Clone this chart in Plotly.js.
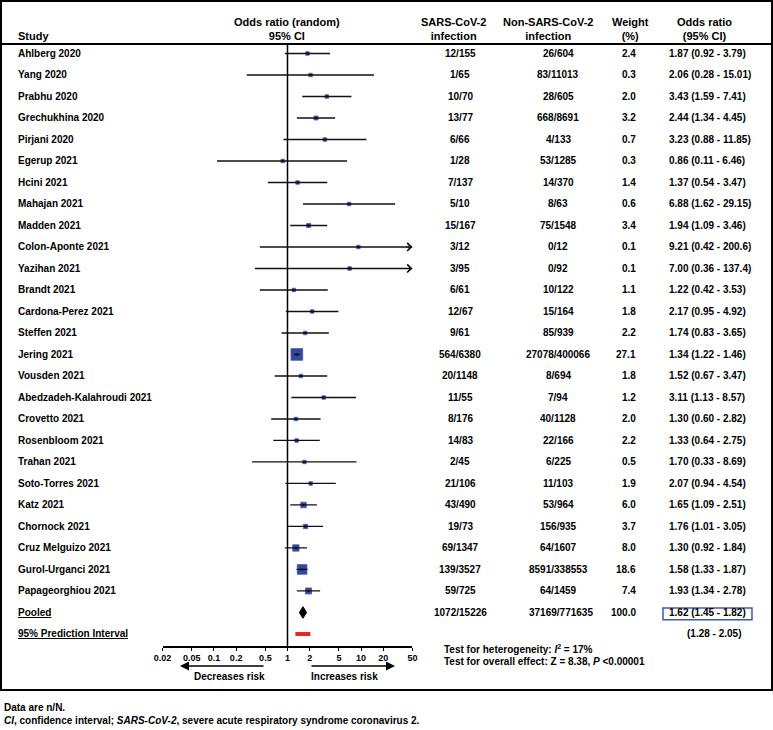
<!DOCTYPE html>
<html>
<head>
<meta charset="utf-8">
<script src="https://cdn.plot.ly/plotly-3.0.1.min.js"></script>
<style>html,body{margin:0;padding:0;background:#fff;}#chart{width:773px;height:730px;}</style>
</head>
<body>
<div id="chart"></div>
<script>
// ---------------- data ----------------
const studies = ["Ahlberg 2020","Yang 2020","Prabhu 2020","Grechukhina 2020","Pirjani 2020","Egerup 2021","Hcini 2021","Mahajan 2021","Madden 2021","Colon-Aponte 2021","Yazihan 2021","Brandt 2021","Cardona-Perez 2021","Steffen 2021","Jering 2021","Vousden 2021","Abedzadeh-Kalahroudi 2021","Crovetto 2021","Rosenbloom 2021","Trahan 2021","Soto-Torres 2021","Katz 2021","Chornock 2021","Cruz Melguizo 2021","Gurol-Urganci 2021","Papageorghiou 2021"];
const sarsInfection = ["12/155","1/65","10/70","13/77","6/66","1/28","7/137","5/10","15/167","3/12","3/95","6/61","12/67","9/61","564/6380","20/1148","11/55","8/176","14/83","2/45","21/106","43/490","19/73","69/1347","139/3527","59/725"];
const nonSarsInfection = ["26/604","83/11013","28/605","668/8691","4/133","53/1285","14/370","8/63","75/1548","0/12","0/92","10/122","15/164","85/939","27078/400066","8/694","7/94","40/1128","22/166","6/225","11/103","53/964","156/935","64/1607","8591/338553","64/1459"];
const weights = [2.4,0.3,2.0,3.2,0.7,0.3,1.4,0.6,3.4,0.1,0.1,1.1,1.8,2.2,27.1,1.8,1.2,2.0,2.2,0.5,1.9,6.0,3.7,8.0,18.6,7.4];
const oddsRatio = [1.87,2.06,3.43,2.44,3.23,0.86,1.37,6.88,1.94,9.21,7.00,1.22,2.17,1.74,1.34,1.52,3.11,1.30,1.33,1.70,2.07,1.65,1.76,1.30,1.58,1.93];
const ciLow = [0.92,0.28,1.59,1.34,0.88,0.11,0.54,1.62,1.09,0.42,0.36,0.42,0.95,0.83,1.22,0.67,1.13,0.60,0.64,0.33,0.94,1.09,1.01,0.92,1.33,1.34];
const ciHigh = [3.79,15.01,7.41,4.45,11.85,6.46,3.47,29.15,3.46,200.6,137.4,3.53,4.92,3.65,1.46,3.47,8.57,2.82,2.75,8.69,4.54,2.51,3.05,1.84,1.87,2.78];

const pooledLabel = "Pooled";
const pooledSars = "1072/15226";
const pooledNonSars = "37169/771635";
const pooledWeight = 100.0;
const pooledOR = 1.62, pooledLow = 1.45, pooledHigh = 1.82;
const predLabel = "95% Prediction Interval";
const predLow = 1.28, predHigh = 2.05;

const tickVals = [0.02,0.05,0.1,0.2,0.5,1,2,5,10,20,50];
const tickText = ["0.02","0.05","0.1","0.2","0.5","1","2","5","10","20","50"];
const heterogeneityText = "Test for heterogeneity: <i>I</i><sup>2</sup> = 17%";
const overallText = "Test for overall effect: Z = 8.38, <i>P</i> <0.00001";

// ---------------- helpers ----------------
const W = 773, H = 730;
const px = v => v / W;
const py = v => 1 - v / H;
const fmt = v => v >= 100 ? v.toFixed(1) : v.toFixed(2);
const orText = (o, l, h) => fmt(o) + " (" + fmt(l) + " - " + fmt(h) + ")";
const FONT = "Liberation Sans, Arial, Helvetica, sans-serif";
const xMin = 0.02, xMax = 50;

const n = studies.length;
const rows = studies.map((_, i) => i);
const pooledRow = n, predRow = n + 1;

// ---------------- traces ----------------
const traces = [];

// reference line at OR = 1
traces.push({x: [1, 1], y: [-0.442, 27.56], mode: "lines", line: {color: "#000", width: 1.5}, hoverinfo: "skip", showlegend: false});

// weight squares
traces.push({
  x: oddsRatio, y: rows, mode: "markers", hoverinfo: "skip", showlegend: false,
  marker: {symbol: "square", color: "#33479f", opacity: 1, size: weights.map(w => Math.max(3.5, 2.25 * Math.sqrt(w))), line: {color: "#4a5cb0", width: 0.8}}
});

// CI lines (clipped at axis max)
const cx = [], cy = [];
rows.forEach(i => {
  cx.push(ciLow[i], Math.min(ciHigh[i], xMax), null);
  cy.push(i, i, null);
});
traces.push({x: cx, y: cy, mode: "lines", line: {color: "#111", width: 1.3}, hoverinfo: "skip", showlegend: false, connectgaps: false});

// small center markers
traces.push({x: oddsRatio, y: rows, mode: "markers", hoverinfo: "skip", showlegend: false,
  marker: {symbol: "square", color: "#111", size: 2, opacity: 1}});

// pooled diamond
const dh = 0.27;
traces.push({
  x: [pooledLow, pooledOR, pooledHigh, pooledOR, pooledLow],
  y: [pooledRow, pooledRow - dh, pooledRow, pooledRow + dh, pooledRow],
  mode: "lines", fill: "toself", fillcolor: "#000", line: {color: "#000", width: 1}, hoverinfo: "skip", showlegend: false
});

// prediction interval
traces.push({x: [predLow, predHigh], y: [predRow, predRow], mode: "lines", line: {color: "#e8262a", width: 4}, hoverinfo: "skip", showlegend: false});

// ---------------- annotations ----------------
const ann = [];
const txt = (text, x, y, opts = {}) => Object.assign({
  text: "<b>" + text + "</b>", x: x, y: y, xref: "paper", yref: "paper", showarrow: false,
  xanchor: "center", yanchor: "middle", font: {family: FONT, size: 10, color: "#000"}
}, opts);

// headers
ann.push(txt("Study", px(16), py(36), {xanchor: "left", font: {family: FONT, size: 11, color: "#000"}}));
ann.push(txt("Odds ratio (random)<br>95% CI", px(287), py(29), {font: {family: FONT, size: 11, color: "#000"}}));
ann.push(txt("SARS-CoV-2<br>infection", px(453), py(29), {font: {family: FONT, size: 11, color: "#000"}}));
ann.push(txt("Non-SARS-CoV-2<br>infection", px(548), py(29), {font: {family: FONT, size: 11, color: "#000"}}));
ann.push(txt("Weight<br>(%)", px(630), py(29), {font: {family: FONT, size: 11, color: "#000"}}));
ann.push(txt("Odds ratio<br>(95% CI)", px(704), py(29), {font: {family: FONT, size: 11, color: "#000"}}));

// study rows
rows.forEach(i => {
  ann.push(txt(studies[i], px(16), i, {yref: "y", xanchor: "left"}));
  ann.push(txt(sarsInfection[i], px(460), i, {yref: "y"}));
  ann.push(txt(nonSarsInfection[i], px(558), i, {yref: "y"}));
  ann.push(txt(weights[i].toFixed(1), px(638), i, {yref: "y", xanchor: "right"}));
  ann.push(txt(orText(oddsRatio[i], ciLow[i], ciHigh[i]), px(667), i, {yref: "y", xanchor: "left"}));
  if (ciHigh[i] > xMax) {
    ann.push({x: Math.log10(xMax), y: i, xref: "x", yref: "y", text: "", showarrow: true,
      ax: -8, ay: 0, arrowhead: 4, arrowsize: 1.4, arrowwidth: 1.1, arrowcolor: "#111"});
  }
});

// pooled + prediction rows
ann.push(txt("<u>" + pooledLabel + "</u>", px(16), pooledRow, {yref: "y", xanchor: "left"}));
ann.push(txt(pooledSars, px(460), pooledRow, {yref: "y"}));
ann.push(txt(pooledNonSars, px(561), pooledRow, {yref: "y"}));
ann.push(txt(pooledWeight.toFixed(1), px(638), pooledRow, {yref: "y", xanchor: "right"}));
ann.push(txt(orText(pooledOR, pooledLow, pooledHigh), px(667), pooledRow, {yref: "y", xanchor: "left"}));
ann.push(txt("<u>" + predLabel + "</u>", px(16), predRow, {yref: "y", xanchor: "left"}));
ann.push(txt("(" + fmt(predLow) + " - " + fmt(predHigh) + ")", px(743), py(633), {xanchor: "right"}));

// tests
ann.push(txt(heterogeneityText, px(442), py(649), {xanchor: "left"}));
ann.push(txt(overallText, px(442), py(661), {xanchor: "left"}));

// direction arrows
ann.push({x: px(180), y: py(666), xref: "paper", yref: "paper", text: "", showarrow: true, ax: 85, ay: 0,
  arrowhead: 2, arrowsize: 1.2, arrowwidth: 1.5, arrowcolor: "#000"});
ann.push({x: px(395), y: py(666), xref: "paper", yref: "paper", text: "", showarrow: true, ax: -85, ay: 0,
  arrowhead: 2, arrowsize: 1.2, arrowwidth: 1.5, arrowcolor: "#000"});
ann.push(txt("Decreases risk", px(229), py(676)));
ann.push(txt("Increases risk", px(344), py(676)));

// footnotes
ann.push(txt("Data are n/N.", px(2), py(707), {xanchor: "left"}));
ann.push(txt("<i>CI</i>, confidence interval; <i>SARS-CoV-2</i>, severe acute respiratory syndrome coronavirus 2.", px(2), py(720), {xanchor: "left"}));

// ---------------- shapes ----------------
const shapes = [
  {type: "rect", xref: "paper", yref: "paper", x0: px(1), x1: px(772), y0: py(1), y1: py(690), line: {color: "#000", width: 2}},
  {type: "line", xref: "paper", yref: "paper", x0: px(1), x1: px(772), y0: py(44), y1: py(44), line: {color: "#000", width: 2}},
  {type: "rect", xref: "paper", yref: "y", x0: px(663), x1: px(752), y0: pooledRow - 0.21, y1: pooledRow + 0.34, line: {color: "#3d58b4", width: 1.5}}
];

const layout = {
  width: W, height: H,
  margin: {l: 0, r: 0, t: 0, b: 0},
  paper_bgcolor: "#fff", plot_bgcolor: "rgba(0,0,0,0)",
  showlegend: false,
  font: {family: FONT, size: 10, color: "#000"},
  xaxis: {
    type: "log", domain: [px(162.6), px(412.4)],
    range: [Math.log10(xMin), Math.log10(xMax)],
    tickmode: "array", tickvals: tickVals, ticktext: tickText.map(t => "<b>" + t + "</b>"),
    tickfont: {family: FONT, size: 9, color: "#000"},
    showgrid: false, zeroline: false, showline: true, linecolor: "#000", linewidth: 1.5,
    ticks: "outside", ticklen: 3, tickwidth: 1, tickcolor: "#000", fixedrange: true
  },
  yaxis: {
    domain: [(H - 646) / H, (H - 44) / H],
    range: [27.56, -0.442], visible: false, fixedrange: true
  },
  annotations: ann,
  shapes: shapes
};

Plotly.newPlot("chart", traces, layout, {displayModeBar: false, staticPlot: true});
</script>
</body>
</html>
